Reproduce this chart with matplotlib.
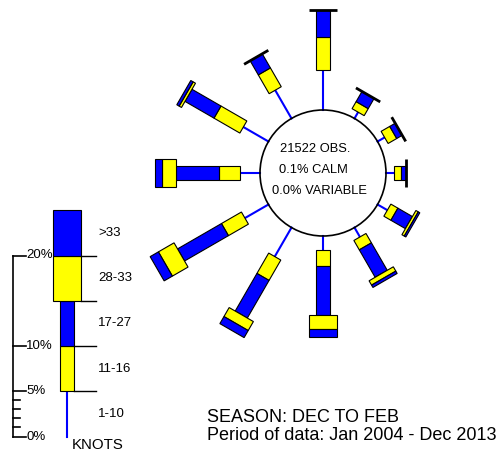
import numpy as np
import matplotlib.pyplot as plt
from matplotlib.patches import Polygon, Circle

plt.rcParams['font.family'] = ['Liberation Sans', 'DejaVu Sans']

# Wind directions (degrees) and percentage of observations per speed band
directions = [0, 30, 60, 90, 120, 150, 180, 210, 240, 270, 300, 330]
speed_bins = ["1-10", "11-16", "17-27", "28-33", ">33"]
pct_1_10 = [4.4, 0.8, 0.9, 0.9, 1.25, 1.2, 1.5, 3.7, 3.0, 2.2, 3.2, 3.6]
pct_11_16 = [3.7, 0.9, 1.1, 0.8, 0.9, 1.2, 1.85, 2.6, 2.55, 2.3, 3.3, 2.4]
pct_17_27 = [3.0, 1.3, 0.7, 0.5, 1.85, 3.5, 5.35, 4.8, 5.6, 4.8, 3.7, 1.8]
pct_28_33 = [0.0, 0.0, 0.0, 0.0, 0.3, 0.55, 1.6, 1.15, 2.0, 1.5, 0.3, 0.0]
pct_over_33 = [0.0, 0.0, 0.0, 0.0, 0.2, 0.3, 0.9, 0.9, 1.05, 0.75, 0.3, 0.0]

n_obs = 21522
calm_pct = 0.1
variable_pct = 0.0
legend_pct = [5, 5, 5, 5, 5]
scale_ticks = [0, 5, 10, 20]
scale_minor = [1, 2, 3, 4]
season = "DEC TO FEB"
period = "Jan 2004 - Dec 2013"

# layout (pixels)
PX = 9.05          # pixels per percent
CX, CY, R0 = 323, 173, 63
NARROW, WIDE = 14, 28
BLUE, YELLOW = "#0000ff", "#ffff00"
seg_style = [("line", BLUE), (NARROW, YELLOW), (NARROW, BLUE), (WIDE, YELLOW), (WIDE, BLUE)]

fig = plt.figure(figsize=(5.01, 4.59), dpi=100)
ax = fig.add_axes([0, 0, 1, 1])
ax.set_xlim(0, 501)
ax.set_ylim(459, 0)
ax.axis("off")


def draw_spoke(cx, cy, angle, r_start, values):
    t = np.radians(angle)
    u = np.array([np.sin(t), -np.cos(t)])
    p = np.array([np.cos(t), np.sin(t)])
    c = np.array([cx, cy])
    r = r_start
    for (w, col), v in zip(seg_style, values):
        r2 = r + v * PX
        if w == "line":
            a, b = c + u * r, c + u * r2
            ax.plot([a[0], b[0]], [a[1], b[1]], color=col, lw=1.5, zorder=2)
        elif v > 0:
            pts = [c + u * r + p * w / 2, c + u * r2 + p * w / 2,
                   c + u * r2 - p * w / 2, c + u * r - p * w / 2]
            ax.add_patch(Polygon(pts, closed=True, fc=col, ec="black", lw=0.8, zorder=3))
        r = r2
    if values[3] + values[4] == 0:
        a = c + u * r + p * WIDE / 2
        b = c + u * r - p * WIDE / 2
        ax.plot([a[0], b[0]], [a[1], b[1]], color="black", lw=2, zorder=4,
                solid_capstyle="butt")


# rose
for i, d in enumerate(directions):
    vals = [pct_1_10[i], pct_11_16[i], pct_17_27[i], pct_28_33[i], pct_over_33[i]]
    draw_spoke(CX, CY, d, R0, vals)

ax.add_patch(Circle((CX, CY), R0, fill=False, ec="black", lw=1.2, zorder=5))
ax.text(315, 148.5, f"{n_obs} OBS.", ha="center", va="center", fontsize=9.3)
ax.text(313, 170, f"{calm_pct:.1f}% CALM", ha="center", va="center", fontsize=9.3)
ax.text(319, 190.5, f"{variable_pct:.1f}% VARIABLE", ha="center", va="center", fontsize=9.3)

# legend bar
LX, LY = 67.5, 436.5
draw_spoke(LX, LY, 0, 0, legend_pct)
bounds = np.cumsum(legend_pct)
for k in range(1, 5):
    yb = LY - bounds[k - 1] * PX
    w = NARROW if k < 3 else WIDE
    ax.plot([LX + w / 2, 96.5], [yb, yb], color="black", lw=1, zorder=4)
for k, lab in enumerate(speed_bins):
    ymid = LY - (bounds[k] - legend_pct[k] / 2) * PX
    ax.text(98, ymid, lab, ha="left", va="center", fontsize=9.5)
ax.text(71.5, 449, "KNOTS", ha="left", va="baseline", fontsize=10.8)

# percentage scale
SX = 13.3
ax.plot([SX, SX], [LY, LY - max(scale_ticks) * PX], color="black", lw=1.2)
for tk in scale_ticks:
    yt = LY - tk * PX
    ax.plot([SX, SX + 13], [yt, yt], color="black", lw=1.2)
    ax.text(SX + 13, yt, f"{tk}%", ha="left", va="center", fontsize=9.5)
for tk in scale_minor:
    yt = LY - tk * PX
    ax.plot([SX, SX + 7], [yt, yt], color="black", lw=1.2)

# footer
ax.text(207, 422.5, f"SEASON: {season}", ha="left", va="baseline", fontsize=13)
ax.text(207, 439.5, f"Period of data: {period}", ha="left", va="baseline", fontsize=13)

fig.savefig("out.png", dpi=100)
